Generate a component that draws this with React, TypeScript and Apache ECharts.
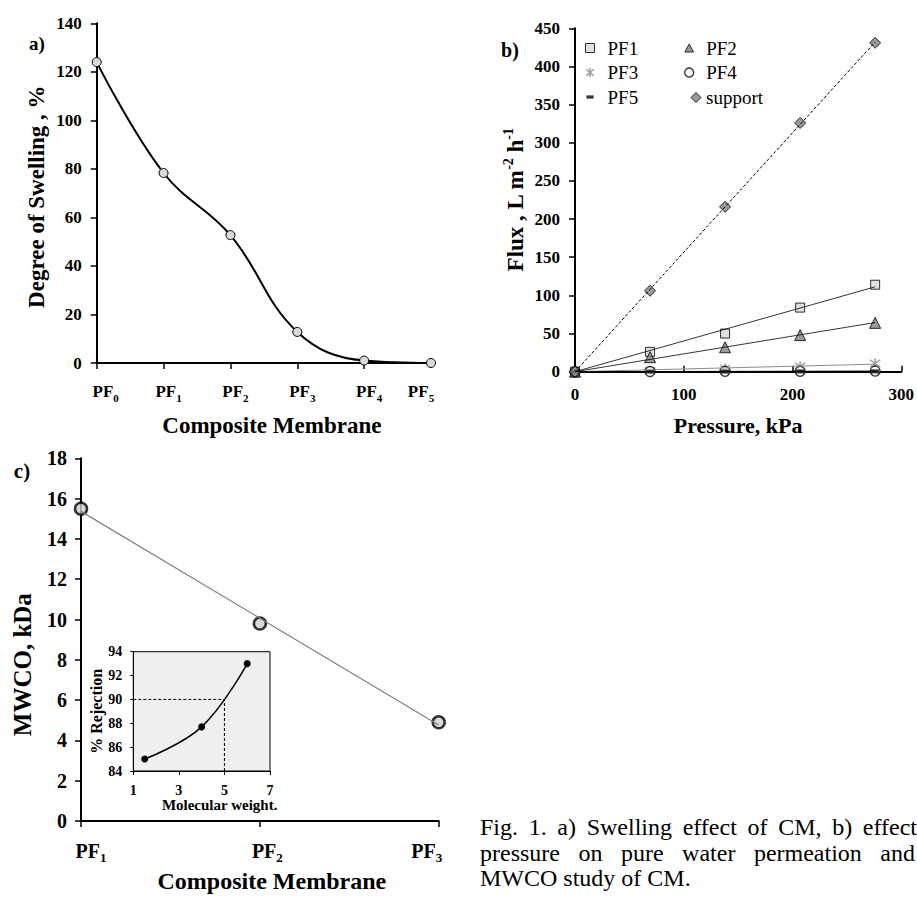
import React, { useEffect, useRef } from 'react';
import * as echarts from 'echarts';

const FONT = "'Liberation Serif', 'Times New Roman', serif";

// ---------- Panel a: degree of swelling ----------
const membranesA = ['PF0', 'PF1', 'PF2', 'PF3', 'PF4', 'PF5'];
const swelling = [124, 78.3, 52.7, 12.8, 1.0, 0];

// ---------- Panel b: flux vs pressure ----------
const pressureKPa = [0, 69, 138, 207, 276];
const fluxPF1 = [0, 26, 50, 84, 114];
const fluxPF2 = [0, 19, 32, 48, 64];
const fluxPF3 = [0, 1, 4, 7, 11];
const fluxPF4 = [0, 0.3, 0.5, 0.6, 0.8];
const fluxPF5 = [0, 0.1, 0.2, 0.3, 0.4];
const fluxSupport = [0, 106, 216, 326, 431];

// ---------- Panel c: MWCO ----------
const membranesC = ['PF1', 'PF2', 'PF3'];
const mwco = [15.5, 9.8, 4.9];

// ---------- Inset: rejection vs molecular weight ----------
const molWeight = [1.5, 4, 6];
const rejection = [85, 87.7, 93];
const insetWeightRange = [1, 7];
const insetRejectionRange = [84, 94];
const cutoffWeight = 5;
const cutoffRejection = 90;

// ---------- Caption ----------
const captionLine1 = ['Fig.', '1.', 'a)', 'Swelling', 'effect', 'of', 'CM,', 'b)', 'effect'];
const captionLine2 = ['pressure', 'on', 'pure', 'water', 'permeation', 'and'];
const captionLine3 = 'MWCO study of CM.';

// legend / marker glyphs (all in a 10x10 box so keepAspect scales them alike)
const ICON_SQUARE = 'path://M0.5,0.5H9.5V9.5H0.5Z';
const ICON_TRIANGLE = 'path://M0,0M10,10M5,0.5L9.8,9.5H0.2Z';
const ICON_ASTERISK = 'path://M5,0L5,10M1,1.5L9,8.5M1,8.5L9,1.5';
const ICON_DASH = 'path://M0,0M10,10M1,3.2H9V6.8H1Z';
const ICON_DIAMOND = 'path://M5,0L10,5L5,10L0,5Z';

function slopeThroughOrigin(xs: number[], ys: number[]) {
  let sxy = 0;
  let sxx = 0;
  xs.forEach((x, i) => {
    sxy += x * ys[i];
    sxx += x * x;
  });
  return sxy / sxx;
}

function linearFitByIndex(ys: number[]) {
  const n = ys.length;
  const xs = ys.map((_, i) => i);
  const mx = xs.reduce((a, b) => a + b, 0) / n;
  const my = ys.reduce((a, b) => a + b, 0) / n;
  let num = 0;
  let den = 0;
  xs.forEach((x, i) => {
    num += (x - mx) * (ys[i] - my);
    den += (x - mx) * (x - mx);
  });
  const b = num / den;
  const a = my - b * mx;
  return xs.map((x) => a + b * x);
}

function justify(words: string[], left: number, right: number, font: string) {
  const ctx = document.createElement('canvas').getContext('2d')!;
  ctx.font = font;
  const widths = words.map((w) => ctx.measureText(w).width);
  const total = widths.reduce((a, b) => a + b, 0);
  const gap = (right - left - total) / (words.length - 1);
  const xs: number[] = [];
  let x = left;
  widths.forEach((w) => {
    xs.push(x);
    x += w + gap;
  });
  return xs;
}

const black = '#000';

function subLabel(size: number, subSize: number, lh: number, padFirst: number, padMid: number, padLast: number, count: number) {
  const base = { fontFamily: FONT, fontWeight: 'bold' as const, fontSize: size, color: black, lineHeight: lh, verticalAlign: 'middle' as const };
  const sub = { fontFamily: FONT, fontWeight: 'bold' as const, fontSize: subSize, color: black, lineHeight: lh, verticalAlign: 'bottom' as const };
  return {
    interval: 0,
    formatter: (v: string, i: number) => {
      const head = v.slice(0, 2);
      const tail = v.slice(2);
      if (i === 0) return `{f|${head}}{s|${tail}}`;
      if (i === count - 1) return `{q|${head}}{sl|${tail}}`;
      return `{p|${head}}{s|${tail}}`;
    },
    rich: {
      f: { ...base, padding: [0, 0, 0, padFirst] },
      p: { ...base, padding: [0, 0, 0, padMid] },
      q: { ...base },
      s: { ...sub },
      sl: { ...sub, padding: [0, padLast, 0, 0] },
    },
  };
}

export default function App() {
  const ref = useRef<HTMLDivElement>(null);

  useEffect(() => {
    if (!ref.current) return;
    const chart = echarts.init(ref.current, undefined, { renderer: 'svg' });

    const tickFont = { fontFamily: FONT, fontWeight: 'bold' as const, color: black };

    const pMax = pressureKPa[pressureKPa.length - 1];
    const bDefs = [
      { name: 'PF1', ys: fluxPF1, symbol: 'rect', icon: ICON_SQUARE, size: 9, item: { color: '#d9d9d9', borderColor: black, borderWidth: 1 }, line: { color: black, width: 0.8 } },
      { name: 'PF2', ys: fluxPF2, symbol: 'triangle', icon: ICON_TRIANGLE, size: 11, item: { color: '#808080', borderColor: black, borderWidth: 1 }, line: { color: black, width: 0.8 } },
      { name: 'PF3', ys: fluxPF3, symbol: ICON_ASTERISK, icon: ICON_ASTERISK, size: 10, item: { color: 'rgba(0,0,0,0)', borderColor: '#8c8c8c', borderWidth: 1.6 }, line: { color: '#8c8c8c', width: 1 } },
      { name: 'PF4', ys: fluxPF4, symbol: 'circle', icon: 'circle', size: 10, item: { color: '#fff', borderColor: black, borderWidth: 1.4 }, line: { color: black, width: 0.8 } },
      { name: 'PF5', ys: fluxPF5, symbol: 'rect', icon: ICON_DASH, size: [8, 4], item: { color: black, borderColor: black, borderWidth: 0 }, line: { color: black, width: 0.8 } },
      { name: 'support', ys: fluxSupport, symbol: 'diamond', icon: ICON_DIAMOND, size: 11, item: { color: '#7f7f7f', borderColor: black, borderWidth: 1 }, line: { color: black, width: 1, type: [3, 2] } },
    ];

    const bTrend = bDefs.map((d) => {
      const k = slopeThroughOrigin(pressureKPa, d.ys);
      return {
        name: d.name + ' fit',
        type: 'line',
        xAxisIndex: 1,
        yAxisIndex: 1,
        symbol: 'none',
        data: [
          [0, 0],
          [pMax, k * pMax],
        ],
        lineStyle: d.line,
        silent: true,
      };
    });
    const bMarks = bDefs.map((d) => ({
      name: d.name,
      type: 'scatter',
      xAxisIndex: 1,
      yAxisIndex: 1,
      symbol: d.symbol,
      symbolSize: d.size,
      data: pressureKPa.map((p, i) => [p, d.ys[i]]),
      itemStyle: d.item,
    }));

    const legendText = { fontFamily: FONT, fontSize: 19, color: black };
    const legendItem = (name: string) => {
      const d = bDefs.find((x) => x.name === name)!;
      return { name, icon: d.icon, itemStyle: d.item };
    };

    const cFit = linearFitByIndex(mwco);

    const capFont = `24px 'Liberation Serif'`;
    const x1 = justify(captionLine1, 480, 917, capFont);
    const x2 = justify(captionLine2, 480, 915, capFont);
    const capText = (t: string, x: number, y: number) => ({
      type: 'text',
      x,
      y,
      style: { text: t, fontFamily: FONT, fontSize: 24, fill: black, align: 'left', verticalAlign: 'middle' },
    });

    const option: any = {
      animation: false,
      backgroundColor: '#fff',
      textStyle: { fontFamily: FONT },
      grid: [
        { left: 96.7, top: 23.3, width: 334.3, height: 339.7 },
        { left: 575, top: 28.3, width: 327.7, height: 343.4 },
        { left: 81, top: 458.3, width: 357.7, height: 362.7 },
        { left: 133.3, top: 651.7, width: 136.7, height: 119.3, show: true, backgroundColor: '#eef0f0', borderColor: black, borderWidth: 1 },
      ],
      xAxis: [
        {
          gridIndex: 0,
          type: 'category',
          data: membranesA,
          boundaryGap: false,
          axisLine: { lineStyle: { color: black, width: 2 } },
          axisTick: { length: 6, lineStyle: { color: black, width: 1.5 }, interval: (i: number) => i < membranesA.length - 1 },
          axisLabel: { margin: 16, ...subLabel(17, 11, 24, 18, 10, 20, membranesA.length) },
          name: 'Composite Membrane',
          nameLocation: 'middle',
          nameGap: 51,
          nameTextStyle: { fontFamily: FONT, fontWeight: 'bold', fontSize: 23, color: black, padding: [0, 0, 0, 16] },
          splitLine: { show: false },
        },
        {
          gridIndex: 1,
          type: 'value',
          min: 0,
          max: 300,
          interval: 100,
          axisLine: { onZero: false, lineStyle: { color: black, width: 2 } },
          axisTick: { inside: true, length: 6, lineStyle: { color: black, width: 1.5 } },
          axisLabel: { ...tickFont, fontSize: 17, margin: 14 },
          name: 'Pressure, kPa',
          nameLocation: 'middle',
          nameGap: 43,
          nameTextStyle: { fontFamily: FONT, fontWeight: 'bold', fontSize: 22, color: black },
          splitLine: { show: false },
        },
        {
          gridIndex: 2,
          type: 'category',
          data: membranesC,
          boundaryGap: false,
          axisLine: { lineStyle: { color: black, width: 2 } },
          axisTick: { length: 6, lineStyle: { color: black, width: 1.5 } },
          axisLabel: { margin: 17, ...subLabel(20, 13, 26, 20, 15, 24, membranesC.length) },
          name: 'Composite Membrane',
          nameLocation: 'middle',
          nameGap: 48,
          nameTextStyle: { fontFamily: FONT, fontWeight: 'bold', fontSize: 24, color: black, padding: [0, 0, 0, 24] },
          splitLine: { show: false },
        },
        {
          gridIndex: 3,
          type: 'value',
          min: insetWeightRange[0],
          max: insetWeightRange[1],
          interval: 2,
          axisLine: { onZero: false, lineStyle: { color: black, width: 1 } },
          axisTick: { length: 4, lineStyle: { color: black, width: 1 } },
          axisLabel: { ...tickFont, fontSize: 14, margin: 12 },
          name: 'Molecular weight.',
          nameLocation: 'middle',
          nameGap: 26,
          nameTextStyle: { fontFamily: FONT, fontWeight: 'bold', fontSize: 15, color: black, padding: [0, 0, 0, 36] },
          splitLine: { show: false },
        },
      ],
      yAxis: [
        {
          gridIndex: 0,
          type: 'value',
          min: 0,
          max: 140,
          interval: 20,
          axisLine: { show: true, lineStyle: { color: black, width: 2 } },
          axisTick: { show: true, length: 6, lineStyle: { color: black, width: 1.5 } },
          axisLabel: { ...tickFont, fontSize: 17, margin: 15 },
          name: 'Degree of Swelling , %',
          nameLocation: 'middle',
          nameGap: 49,
          nameTextStyle: { fontFamily: FONT, fontWeight: 'bold', fontSize: 23, color: black, padding: [0, 7, 0, 0] },
          splitLine: { show: false },
        },
        {
          gridIndex: 1,
          type: 'value',
          min: 0,
          max: 450,
          interval: 50,
          axisLine: { show: true, onZero: false, lineStyle: { color: black, width: 2 } },
          axisTick: { show: true, length: 6, lineStyle: { color: black, width: 1.5 } },
          axisLabel: { ...tickFont, fontSize: 17, margin: 15 },
          name: 'Flux , L m{sup|-2} h{sup|-1}',
          nameLocation: 'middle',
          nameGap: 46,
          nameTextStyle: {
            fontFamily: FONT,
            fontWeight: 'bold',
            fontSize: 23,
            color: black,
            lineHeight: 28,
            rich: { sup: { fontFamily: FONT, fontWeight: 'bold', fontSize: 14, color: black, lineHeight: 28, verticalAlign: 'top' } },
          },
          splitLine: { show: false },
        },
        {
          gridIndex: 2,
          type: 'value',
          min: 0,
          max: 18,
          interval: 2,
          axisLine: { show: true, lineStyle: { color: black, width: 2 } },
          axisTick: { show: true, length: 6, lineStyle: { color: black, width: 1.5 } },
          axisLabel: { ...tickFont, fontSize: 20, margin: 14 },
          name: 'MWCO, kDa',
          nameLocation: 'middle',
          nameGap: 46,
          nameTextStyle: { fontFamily: FONT, fontWeight: 'bold', fontSize: 25, color: black, padding: [0, 50, 0, 0] },
          splitLine: { show: false },
        },
        {
          gridIndex: 3,
          type: 'value',
          min: insetRejectionRange[0],
          max: insetRejectionRange[1],
          interval: 2,
          axisLine: { show: true, onZero: false, lineStyle: { color: black, width: 1 } },
          axisTick: { show: true, length: 3, lineStyle: { color: black, width: 1 } },
          axisLabel: { ...tickFont, fontSize: 14, margin: 11 },
          name: '% Rejection',
          nameLocation: 'middle',
          nameGap: 27,
          nameTextStyle: { fontFamily: FONT, fontWeight: 'bold', fontSize: 16, color: black },
          splitLine: { show: false },
        },
      ],
      legend: [
        {
          orient: 'vertical',
          left: 580,
          top: 33.5,
          itemWidth: 25,
          itemHeight: 9,
          itemGap: 5.5,
          selectedMode: false,
          textStyle: legendText,
          data: ['PF1', 'PF3', 'PF5'].map(legendItem),
        },
        {
          orient: 'vertical',
          left: 679,
          top: 33.5,
          itemWidth: 24,
          itemHeight: 9,
          itemGap: 5.5,
          selectedMode: false,
          textStyle: legendText,
          data: ['PF2', 'PF4'].map(legendItem),
        },
        {
          orient: 'vertical',
          left: 685.5,
          top: 83,
          itemWidth: 10,
          itemHeight: 10,
          selectedMode: false,
          textStyle: legendText,
          data: ['support'].map(legendItem),
        },
      ],
      series: [
        {
          name: 'Swelling',
          type: 'line',
          xAxisIndex: 0,
          yAxisIndex: 0,
          data: swelling,
          smooth: 0.4,
          symbol: 'circle',
          symbolSize: 9,
          lineStyle: { color: black, width: 2 },
          itemStyle: { color: '#d9d9d9', borderColor: black, borderWidth: 1 },
        },
        ...bTrend,
        ...bMarks,
        {
          name: 'MWCO fit',
          type: 'line',
          xAxisIndex: 2,
          yAxisIndex: 2,
          data: cFit,
          symbol: 'none',
          lineStyle: { color: '#7f7f7f', width: 1.2 },
        },
        {
          name: 'MWCO',
          type: 'scatter',
          xAxisIndex: 2,
          yAxisIndex: 2,
          data: mwco,
          symbol: 'circle',
          symbolSize: 12,
          itemStyle: { color: '#d0d0d0', borderColor: black, borderWidth: 2.5 },
        },
        {
          name: 'cutoff h',
          type: 'line',
          xAxisIndex: 3,
          yAxisIndex: 3,
          symbol: 'none',
          data: [
            [insetWeightRange[0], cutoffRejection],
            [cutoffWeight, cutoffRejection],
          ],
          lineStyle: { color: black, width: 1, type: [3, 2] },
        },
        {
          name: 'cutoff v',
          type: 'line',
          xAxisIndex: 3,
          yAxisIndex: 3,
          symbol: 'none',
          data: [
            [cutoffWeight, insetRejectionRange[0]],
            [cutoffWeight, cutoffRejection],
          ],
          lineStyle: { color: black, width: 1, type: [3, 2] },
        },
        {
          name: 'Rejection',
          type: 'line',
          xAxisIndex: 3,
          yAxisIndex: 3,
          data: molWeight.map((m, i) => [m, rejection[i]]),
          smooth: 0.4,
          symbol: 'circle',
          symbolSize: 7,
          lineStyle: { color: black, width: 1.5 },
          itemStyle: { color: black },
        },
      ],
      graphic: [
        { type: 'text', x: 37, y: 43, style: { text: 'a)', fontFamily: FONT, fontWeight: 'bold', fontSize: 19, fill: black, align: 'center', verticalAlign: 'middle' } },
        { type: 'text', x: 510, y: 50, style: { text: 'b)', fontFamily: FONT, fontWeight: 'bold', fontSize: 20, fill: black, align: 'center', verticalAlign: 'middle' } },
        { type: 'text', x: 22, y: 471, style: { text: 'c)', fontFamily: FONT, fontWeight: 'bold', fontSize: 21, fill: black, align: 'center', verticalAlign: 'middle' } },
        ...captionLine1.map((w, i) => capText(w, x1[i], 827)),
        ...captionLine2.map((w, i) => capText(w, x2[i], 852.5)),
        capText(captionLine3, 480, 878),
      ],
    };

    chart.setOption(option);
    return () => chart.dispose();
  }, []);

  return <div ref={ref} style={{ position: 'fixed', left: 0, top: 0, width: 917, height: 900, background: '#fff' }} />;
}
